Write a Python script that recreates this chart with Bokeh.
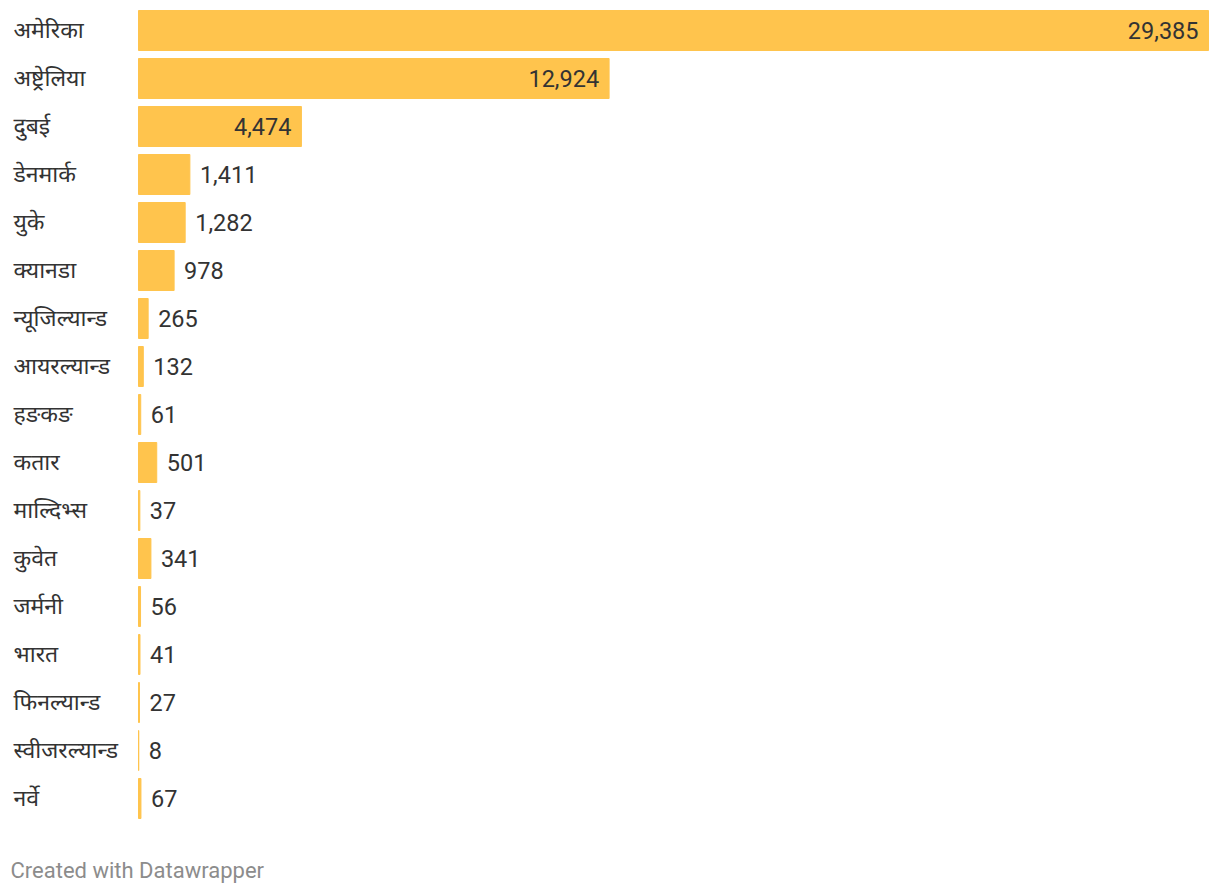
from bokeh.plotting import figure
from bokeh.models import Range1d, ColumnDataSource, Label
from bokeh.core.properties import value
from bokeh.embed import file_html
from bokeh.resources import INLINE

countries = ["अमेरिका", "अष्ट्रेलिया", "दुबई", "डेनमार्क", "युके", "क्यानडा",
             "न्यूजिल्यान्ड", "आयरल्यान्ड", "हङकङ", "कतार", "माल्दिभ्स", "कुवेत",
             "जर्मनी", "भारत", "फिनल्यान्ड", "स्वीजरल्यान्ड", "नर्वे"]
values = [29385, 12924, 4474, 1411, 1282, 978, 265, 132, 61, 501, 37, 341,
          56, 41, 27, 8, 67]

W, H = 1212, 890
left_px, right_px = 138, 4          # bar zero at x 138, max at x 1208
row_px, top_px = 48, 30
vmax = max(values)
scale = vmax / (W - left_px - right_px)   # data units per pixel
x0 = -left_px * scale
x1 = vmax + right_px * scale
y_top = -top_px / row_px
y_bot = (H - top_px) / row_px

FONT = "Roboto, 'Noto Sans Devanagari', 'Noto Sans', sans-serif"
BAR = "#ffc44d"
TXT = "#333333"

p = figure(width=W, height=H, output_backend="svg", toolbar_location=None,
           x_range=Range1d(x0, x1), y_range=Range1d(y_bot, y_top),
           min_border=0, min_border_left=0, min_border_right=0,
           min_border_top=0, min_border_bottom=0)
p.axis.visible = False
p.grid.visible = False
p.outline_line_color = None
p.background_fill_color = "white"
p.border_fill_color = "white"

n = len(countries)
rows = list(range(n))
labels = [f"{v:,}" for v in values]
inside = []
for v, lab in zip(values, labels):
    bar_w = v / scale
    inside.append(bar_w > len(lab) * 13 + 24)

src = ColumnDataSource(dict(y=rows, v=values, c=countries, lab=labels))
p.hbar(y="y", left=0, right="v", height=40 / row_px, source=src,
       fill_color=BAR, line_color=BAR, line_width=1)

# category labels
p.text(x=x0, y="y", text="c", source=src, x_offset=13,
       text_font=value(FONT), text_font_size="23px", text_color=TXT,
       text_align="left", text_baseline="middle")

in_src = ColumnDataSource(dict(
    y=[r for r, i in zip(rows, inside) if i],
    v=[v for v, i in zip(values, inside) if i],
    lab=[l for l, i in zip(labels, inside) if i]))
out_src = ColumnDataSource(dict(
    y=[r for r, i in zip(rows, inside) if not i],
    v=[v for v, i in zip(values, inside) if not i],
    lab=[l for l, i in zip(labels, inside) if not i]))

p.text(x="v", y="y", text="lab", source=in_src, x_offset=-10,
       text_font=value("Roboto"), text_font_size="23.5px", text_color=TXT,
       text_align="right", text_baseline="middle")
p.text(x="v", y="y", text="lab", source=out_src, x_offset=10,
       text_font=value("Roboto"), text_font_size="23.5px", text_color=TXT,
       text_align="left", text_baseline="middle")

p.add_layout(Label(x=10, y=H - 870, x_units="screen", y_units="screen",
                   text="Created with Datawrapper", text_font="Roboto",
                   text_font_size="22px", text_color="#8c8c8c",
                   text_baseline="middle", text_align="left"))

open("out.html", "w").write(file_html(p, INLINE))
